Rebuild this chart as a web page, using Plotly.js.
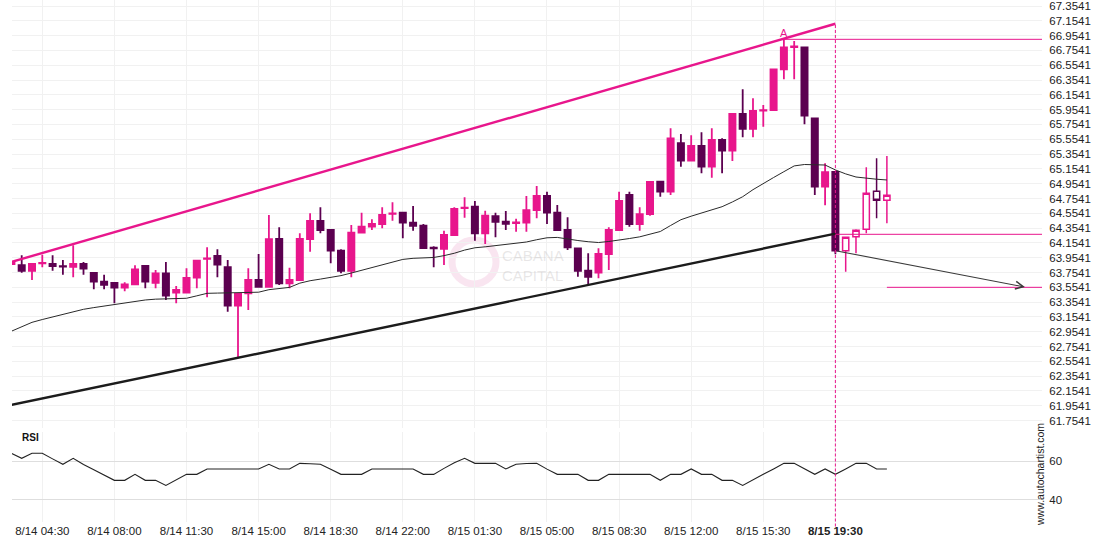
<!DOCTYPE html>
<html>
<head>
<meta charset="utf-8">
<script src="https://cdn.plot.ly/plotly-3.0.1.min.js"></script>
<style>html,body{margin:0;padding:0;background:#fff;}#chart{width:1110px;height:550px;}</style>
</head>
<body>
<div id="chart"></div>
<script>
// ---- Data (30-minute candles, index 0 = first candle at left edge) ----
const openP = [63.869,63.855,63.778,63.878,63.869,63.840,63.832,63.869,63.748,63.630,
  63.612,63.549,63.595,63.842,63.616,63.743,63.482,63.482,63.684,63.940,
  63.977,63.828,63.306,63.473,63.653,63.562,64.207,63.608,63.653,64.207,
  64.450,64.328,64.049,63.778,64.292,64.373,64.409,64.545,64.562,64.427,
  64.386,64.090,64.072,64.261,64.625,64.643,64.284,64.517,64.440,64.423,
  64.427,64.598,64.788,64.562,64.328,64.081,63.778,63.752,64.004,64.328,
  64.801,64.409,64.544,64.981,64.846,65.500,65.265,65.464,65.184,65.544,
  65.400,65.895,65.693,65.940,65.949,66.499,66.800,66.796,65.837,64.913,
  65.112];
const highP = [63.900,63.986,63.875,63.995,63.986,63.923,64.122,63.896,63.748,63.725,
  63.612,63.622,63.851,63.842,63.788,63.896,63.572,63.811,63.923,64.095,
  64.068,63.923,63.473,63.811,64.004,64.531,64.365,63.819,64.284,64.554,
  64.635,64.328,64.068,64.396,64.562,64.473,64.635,64.702,64.562,64.653,
  64.409,64.110,64.319,64.635,64.770,64.720,64.589,64.562,64.585,64.481,
  64.788,64.923,64.846,64.666,64.500,64.090,64.014,64.081,64.365,64.846,
  64.846,64.635,64.990,64.990,65.702,65.625,65.608,65.648,65.702,65.567,
  65.905,66.229,66.107,66.017,66.510,66.904,66.881,66.800,65.840,65.229,
  65.120];
const lowP = [63.860,63.752,63.653,63.824,63.778,63.725,63.689,63.725,63.527,63.527,
  63.338,63.500,63.581,63.541,63.541,63.383,63.338,63.473,63.541,63.419,
  63.689,63.225,62.613,63.248,63.554,63.554,63.585,63.541,63.639,64.035,
  64.284,63.878,63.743,63.689,64.284,64.328,64.351,64.454,64.216,64.319,
  64.076,63.824,63.856,64.250,64.494,64.184,64.139,64.230,64.328,64.305,
  64.305,64.486,64.409,64.315,64.058,63.697,63.585,63.676,63.788,64.320,
  64.373,64.319,64.520,64.778,64.801,65.184,65.260,65.094,65.035,65.094,
  65.260,65.581,65.581,65.724,65.940,66.364,66.364,65.756,64.801,64.662,
  64.000];
const closeP = [63.886,63.778,63.869,63.884,63.842,63.835,63.869,63.806,63.630,63.589,
  63.549,63.595,63.797,63.630,63.743,63.441,63.518,63.680,63.914,63.946,
  63.860,63.306,63.464,63.653,63.562,64.203,63.608,63.653,64.207,64.450,
  64.328,64.049,63.778,64.292,64.373,64.409,64.531,64.552,64.427,64.386,
  64.085,64.082,64.261,64.612,64.630,64.284,64.522,64.440,64.410,64.430,
  64.598,64.788,64.562,64.328,64.095,63.778,63.697,64.004,64.328,64.720,
  64.409,64.544,64.977,64.846,65.567,65.265,65.464,65.184,65.544,65.400,
  65.895,65.693,65.936,65.947,66.499,66.796,66.810,65.872,64.913,65.111,
  64.049];

// candles after the breakout (drawn hollow)
const postOpen  = [64.049,64.238,64.338,64.851,64.730];
const postHigh  = [64.240,64.338,65.175,65.297,65.328];
const postLow   = [63.765,64.013,64.284,64.486,64.419];
const postClose = [64.230,64.325,64.824,64.730,64.798];

// moving average (one value per candle, 0..85)
const maValues = [62.961,63.021,63.081,63.119,63.153,63.188,63.223,63.257,63.280,63.302,
  63.323,63.344,63.364,63.383,63.394,63.396,63.400,63.406,63.439,63.473,
  63.476,63.480,63.481,63.481,63.488,63.522,63.539,63.553,63.610,63.643,
  63.665,63.685,63.712,63.747,63.783,63.818,63.856,63.893,63.931,63.946,
  63.951,63.957,63.982,64.014,64.057,64.088,64.101,64.115,64.130,64.146,
  64.166,64.197,64.223,64.228,64.205,64.186,64.170,64.159,64.173,64.189,
  64.213,64.236,64.272,64.308,64.389,64.467,64.515,64.559,64.598,64.643,
  64.707,64.778,64.873,64.960,65.037,65.116,65.194,65.213,65.212,65.206,
  65.140,65.086,65.044,65.027,65.014,65.004];

// RSI (one value per candle, 0..85)
const rsiValues = [64.0,61.4,64.0,64.0,61.1,58.3,61.4,58.2,55.5,52.8,
  50.0,50.0,53.1,50.0,50.0,47.4,50.4,53.1,53.1,55.9,
  55.9,55.9,55.9,55.9,55.9,58.3,55.9,55.9,58.8,58.6,
  58.3,55.7,53.1,53.1,53.1,55.9,55.9,55.9,55.9,55.9,
  53.1,53.1,56.2,59.1,61.4,58.8,58.8,58.8,55.9,58.3,
  58.7,58.8,55.8,53.1,53.1,53.1,50.0,50.0,53.1,53.1,
  53.1,53.1,53.1,50.0,53.1,53.1,55.9,53.1,53.1,50.0,
  50.0,47.4,50.4,53.1,55.9,58.8,58.8,55.9,53.1,55.9,
  53.1,55.9,58.8,58.8,55.9,55.9];

// channel lines (start index, end index, prices)
const upperChannelX = [0, 80];
const upperChannelY = [63.897, 67.114];
const lowerChannelX = [0, 80];
const lowerChannelY = [61.966, 64.280];

// pattern levels
const resistanceLevel = 66.904;  // "A" point level
const resistanceStart = 75;
const breakoutIndex = 80;
const breakoutLevel = 64.270;
const targetLevel = 63.554;
const targetStart = 85;
const forecastEndIndex = 98.4;
const forecastEndPrice = 63.558;

// axis ticks
const priceTicks = [61.7541,61.9541,62.1541,62.3541,62.5541,62.7541,62.9541,63.1541,63.3541,63.5541,
  63.7541,63.9541,64.1541,64.3541,64.5541,64.7541,64.9541,65.1541,65.3541,65.5541,
  65.7541,65.9541,66.1541,66.3541,66.5541,66.7541,66.9541,67.1541,67.3541];
const rsiTicks = [40, 60];
const timeTickIndex = [3,10,17,24,31,38,45,52,59,66,73,80];
const timeTickLabels = ['8/14 04:30','8/14 08:00','8/14 11:30','8/14 15:00','8/14 18:30','8/14 22:00',
  '8/15 01:30','8/15 05:00','8/15 08:30','8/15 12:00','8/15 15:30','<b>8/15 19:30</b>'];

// ---- Styling ----
const PINK = '#e8168c';
const DARK = '#5c0050';
const X_RANGE = [0.058, 100.06];
const Y_RANGE = [61.6537, 67.4351];
const RSI_RANGE = [28.46, 75.0];

const idx = openP.map((_, i) => i);
const postIdx = postOpen.map((_, i) => openP.length + i);
const allIdx = maValues.map((_, i) => i);
const rightEdge = X_RANGE[1] + 1;

const traces = [
  {
    type: 'candlestick', x: idx, open: openP, high: highP, low: lowP, close: closeP,
    xaxis: 'x', yaxis: 'y', whiskerwidth: 0, hoverinfo: 'skip',
    increasing: {line: {color: PINK, width: 1.8}, fillcolor: PINK},
    decreasing: {line: {color: DARK, width: 1.8}, fillcolor: DARK},
    showlegend: false
  },
  {
    type: 'candlestick', x: postIdx, open: postOpen, high: postHigh, low: postLow, close: postClose,
    xaxis: 'x', yaxis: 'y', whiskerwidth: 0, hoverinfo: 'skip',
    increasing: {line: {color: PINK, width: 1.5}, fillcolor: '#ffffff'},
    decreasing: {line: {color: DARK, width: 1.5}, fillcolor: '#ffffff'},
    showlegend: false
  },
  { type: 'scatter', mode: 'lines', x: allIdx, y: maValues, xaxis: 'x', yaxis: 'y',
    line: {color: '#2a2a2a', width: 1}, hoverinfo: 'skip', showlegend: false },
  { type: 'scatter', mode: 'lines', x: upperChannelX, y: upperChannelY, xaxis: 'x', yaxis: 'y',
    line: {color: PINK, width: 2.4}, hoverinfo: 'skip', showlegend: false },
  { type: 'scatter', mode: 'lines', x: lowerChannelX, y: lowerChannelY, xaxis: 'x', yaxis: 'y',
    line: {color: '#1c1c1c', width: 2.4}, hoverinfo: 'skip', showlegend: false },
  { type: 'scatter', mode: 'lines', x: [resistanceStart, rightEdge], y: [resistanceLevel, resistanceLevel],
    xaxis: 'x', yaxis: 'y', line: {color: PINK, width: 1}, hoverinfo: 'skip', showlegend: false },
  { type: 'scatter', mode: 'lines', x: [breakoutIndex, rightEdge], y: [breakoutLevel, breakoutLevel],
    xaxis: 'x', yaxis: 'y', line: {color: PINK, width: 1}, hoverinfo: 'skip', showlegend: false },
  { type: 'scatter', mode: 'lines', x: [targetStart, rightEdge], y: [targetLevel, targetLevel],
    xaxis: 'x', yaxis: 'y', line: {color: PINK, width: 1}, hoverinfo: 'skip', showlegend: false },
  { type: 'scatter', mode: 'lines', x: allIdx, y: rsiValues, xaxis: 'x', yaxis: 'y2',
    line: {color: '#222', width: 1.1}, hoverinfo: 'skip', showlegend: false }
];

const layout = {
  width: 1110, height: 550,
  margin: {l: 12, r: 68, t: 0, b: 28},
  paper_bgcolor: '#ffffff', plot_bgcolor: '#ffffff',
  font: {family: '"Liberation Sans", Arial, sans-serif', size: 11, color: '#222'},
  showlegend: false,
  boxgap: 0.14,
  xaxis: {
    range: X_RANGE, anchor: 'y2', rangeslider: {visible: false},
    tickmode: 'array', tickvals: timeTickIndex, ticktext: timeTickLabels,
    showgrid: true, gridcolor: '#f1f1f1', gridwidth: 1, zeroline: false, showline: false,
    ticks: '', tickfont: {size: 11.5, color: '#222'}
  },
  yaxis: {
    domain: [0.18008, 1], range: Y_RANGE, side: 'right', anchor: 'x',
    tickmode: 'array', tickvals: priceTicks, tickformat: '.4f',
    showgrid: true, gridcolor: '#f1f1f1', zeroline: false, showline: false,
    ticks: 'outside', ticklen: 4, tickcolor: 'rgba(0,0,0,0)',
    tickfont: {size: 11.5, color: '#222'}
  },
  yaxis2: {
    domain: [0, 0.1724], range: RSI_RANGE, side: 'right', anchor: 'x',
    tickmode: 'array', tickvals: rsiTicks,
    showgrid: true, gridcolor: '#dedede', zeroline: false, showline: false,
    ticks: 'outside', ticklen: 4, tickcolor: 'rgba(0,0,0,0)',
    tickfont: {size: 11.5, color: '#222'}
  },
  shapes: [
    {type: 'line', xref: 'x', yref: 'y', x0: breakoutIndex, x1: breakoutIndex,
     y0: Y_RANGE[0], y1: upperChannelY[1], line: {color: PINK, width: 1, dash: '3px,2px'}},
    {type: 'line', xref: 'x', yref: 'y2 domain', x0: breakoutIndex, x1: breakoutIndex,
     y0: -0.05, y1: 1.05, line: {color: PINK, width: 1, dash: '3px,2px'}},
    {type: 'circle', xref: 'paper', yref: 'paper', layer: 'below',
     x0: 0.4272, x1: 0.4699, y0: 0.456, y1: 0.540,
     line: {color: 'rgba(236,170,205,0.30)', width: 7}}
  ],
  annotations: [
    {x: forecastEndIndex, y: forecastEndPrice, ax: breakoutIndex, ay: closeP[breakoutIndex],
     xref: 'x', yref: 'y', axref: 'x', ayref: 'y', text: '', showarrow: true,
     arrowhead: 5, arrowsize: 1.4, arrowwidth: 1.1, arrowcolor: '#3a3a3a'},
    {x: resistanceStart, y: highP[resistanceStart], xref: 'x', yref: 'y', text: 'A',
     showarrow: false, yanchor: 'bottom', yshift: -2, font: {size: 11, color: PINK}},
    {x: 0.0078, y: 0.1628, xref: 'paper', yref: 'paper', text: '<b>RSI</b>',
     showarrow: false, xanchor: 'left', yanchor: 'middle', font: {size: 10, color: '#111'}},
    {x: 1.0, y: 0.09, xref: 'paper', yref: 'paper', text: 'www.autochartist.com',
     showarrow: false, textangle: -90, xanchor: 'center', yanchor: 'middle', xshift: -2,
     font: {size: 10.5, color: '#222'}},
    {x: 0.4738, y: 0.4905, xref: 'paper', yref: 'paper', text: 'CABANA<br>CAPITAL',
     showarrow: false, xanchor: 'left', yanchor: 'middle', align: 'left',
     font: {size: 15, color: 'rgba(190,185,185,0.35)'}}
  ]
};

Plotly.newPlot('chart', traces, layout, {staticPlot: true, displayModeBar: false});
</script>
</body>
</html>
